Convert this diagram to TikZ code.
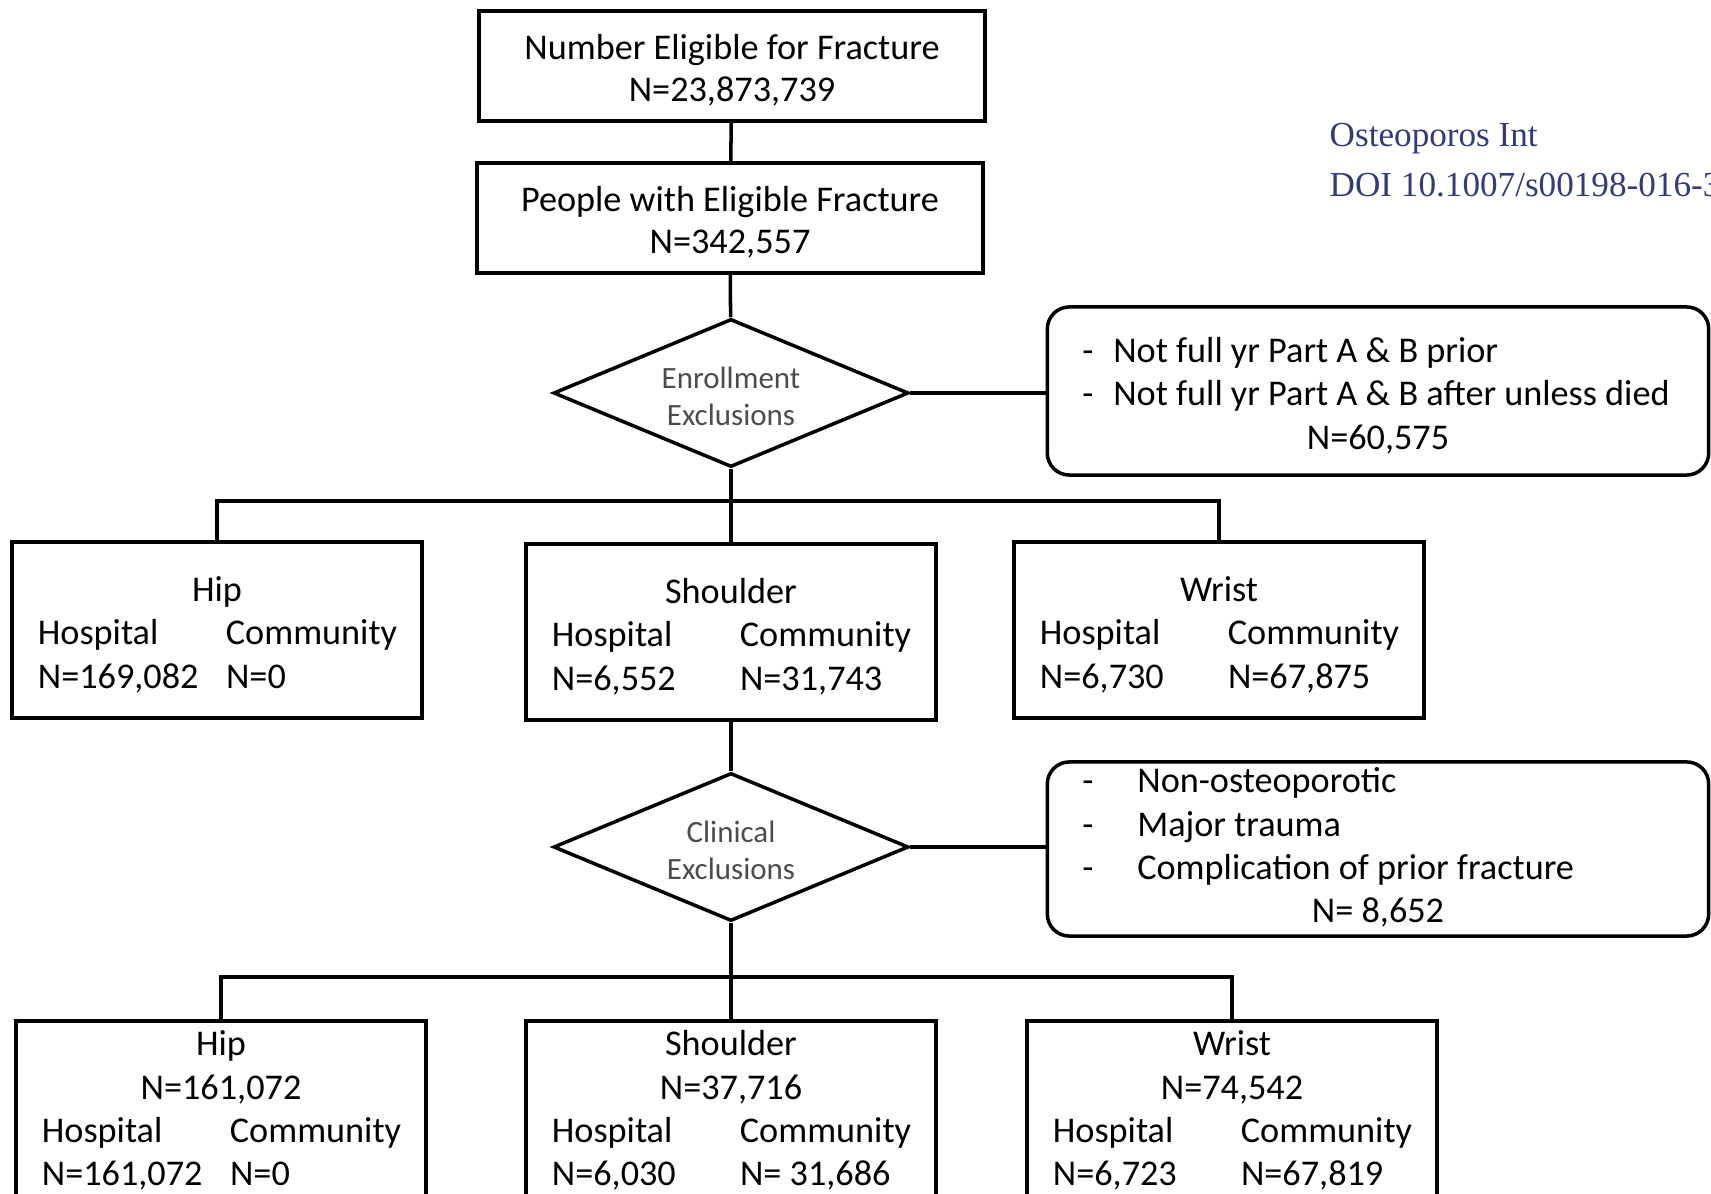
\documentclass[tikz,border=0pt]{standalone}
\usepackage{fontspec}
\setmainfont{Carlito}
\newfontfamily\journalfont{Liberation Serif}
\usetikzlibrary{shapes.geometric}
\definecolor{doiblue}{RGB}{50,60,120}

% text sits a little low in its box
\newcommand{\low}[1]{\vbox{\kern3.6pt\hbox{#1}}}
% site boxes: title, then hospital / community split
\newcommand{\sitetab}[3]{\low{\begin{tabular}{@{}p{1.88cm}@{}p{1.70cm}@{}}\multicolumn{2}{c}{#1}\\ Hospital & Community\\ #2 & #3\end{tabular}}}
\newcommand{\sitetotal}[4]{\begin{tabular}{@{}p{1.88cm}@{}p{1.70cm}@{}}\multicolumn{2}{c}{#1}\\ \multicolumn{2}{c}{#2}\\ Hospital & Community\\ #3 & #4\end{tabular}}
\newcommand{\twolines}[2]{\low{\begin{tabular}{@{}c@{}}#1\\#2\end{tabular}}}

\begin{document}
\begin{tikzpicture}[
                x=0.01cm, y=-0.01cm,
                every node/.style={font=\fontsize{10.3}{12.3}\selectfont, inner sep=0pt},
                box/.style={rectangle, draw, line width=1pt, minimum width=5.06cm, minimum height=1.1cm, font=\fontsize{10.3}{11.8}\selectfont},
                site/.style={rectangle, draw, line width=1pt, minimum width=4.1cm, minimum height=1.76cm},
                excl/.style={diamond, draw, line width=1pt, aspect=2.4, minimum width=3.55cm, minimum height=1.48cm, text=black!70, font=\fontsize{8.8}{10.5}\selectfont},
                note/.style={rectangle, rounded corners=0.22cm, draw, line width=1pt, minimum width=6.61cm},
                link/.style={draw, line width=1pt}
                ]
                \clip (0,0) rectangle (1711,1194);
                % Totals
                \node[box] (eligible) at (732,66) {\twolines{Number Eligible for Fracture}{N=23,873,739}};
                \node[box] (fracture) at (730,218) {\twolines{People with Eligible Fracture}{N=342,557}};
                % Enrollment step
                \node[excl] (enroll) at (731,393) {\twolines{Enrollment}{Exclusions}};
                \node[note, minimum height=1.68cm] (enrollnote) at (1378,391) {\low{\begin{tabular}{@{}p{0.31cm}@{}p{5.6cm}@{}}
                  - & Not full yr Part A \& B prior\\
                  - & Not full yr Part A \& B after unless died\\
                  \multicolumn{2}{c}{N=60,575}\end{tabular}}};
                \node[site] (hip1) at (217,630) {\sitetab{Hip}{N=169,082}{N=0}};
                \node[site] (shoulder1) at (731,632) {\sitetab{Shoulder}{N=6,552}{N=31,743}};
                \node[site] (wrist1) at (1219,630) {\sitetab{Wrist}{N=6,730}{N=67,875}};
                % Clinical step
                \node[excl] (clinical) at (731,847) {\twolines{Clinical}{Exclusions}};
                \node[note, minimum height=1.74cm] (clinnote) at (1378,849) {\begin{tabular}{@{}p{0.55cm}@{}p{5.36cm}@{}}
                  - & Non-osteoporotic\\
                  - & Major trauma\\
                  - & Complication of prior fracture\\
                  \multicolumn{2}{c}{N= 8,652}\end{tabular}};
                \node[site, minimum height=1.82cm] (hip2) at (221,1112) {\sitetotal{Hip}{N=161,072}{N=161,072}{N=0}};
                \node[site, minimum height=1.82cm] (shoulder2) at (731,1112) {\sitetotal{Shoulder}{N=37,716}{N=6,030}{N= 31,686}};
                \node[site, minimum height=1.82cm] (wrist2) at (1232,1112) {\sitetotal{Wrist}{N=74,542}{N=6,723}{N=67,819}};
                % Source
                \node[anchor=west, text=doiblue, font=\journalfont\fontsize{10}{12}\selectfont] (journal) at (1329,139) {Osteoporos Int};
                \node[anchor=west, text=doiblue, font=\journalfont\fontsize{10}{12}\selectfont] (doi) at (1329,185) {DOI 10.1007/s00198-016-3};
                % Connectors
                \coordinate (split1) at (731,501);
                \coordinate (split2) at (731,977);
                \draw[link] (eligible) -- (fracture);
                \draw[link] (fracture) -- (enroll);
                \draw[link] (enroll.east) -- (enroll.east -| enrollnote.west);
                \draw[link] (enroll) -- (shoulder1);
                \draw[link] (split1) -| (hip1.north);
                \draw[link] (split1) -| (wrist1.north);
                \draw[link] (shoulder1) -- (clinical);
                \draw[link] (clinical.east) -- (clinical.east -| clinnote.west);
                \draw[link] (clinical) -- (shoulder2);
                \draw[link] (split2) -| (hip2.north);
                \draw[link] (split2) -| (wrist2.north);
              \end{tikzpicture}
\end{document}
